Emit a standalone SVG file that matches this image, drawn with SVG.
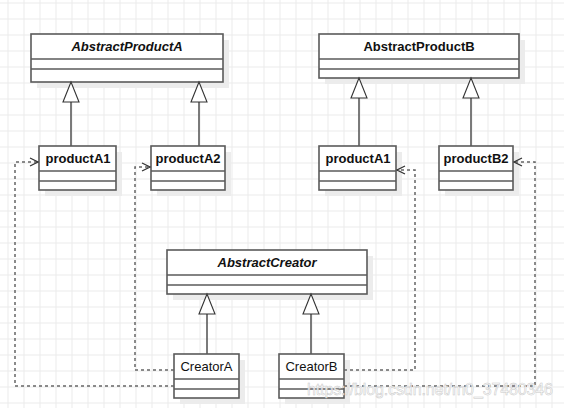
<svg xmlns="http://www.w3.org/2000/svg" width="564" height="408" viewBox="0 0 564 408">
<defs>
<pattern id="grid" x="7.5" y="2.5" width="16" height="16" patternUnits="userSpaceOnUse">
<path d="M0 0.5H16M0.5 0V16" fill="none" stroke="#ebebeb" stroke-width="1"/>
</pattern>
<marker id="open" viewBox="0 0 10 10" refX="9" refY="5" markerWidth="10" markerHeight="10" markerUnits="userSpaceOnUse" orient="auto">
<path d="M1 1L9 5L1 9" fill="none" stroke="#333" stroke-width="1.2"/>
</marker>
</defs>
<style>
.box{fill:#fff;stroke:#5a5a5a;stroke-width:1.6}
.shd{fill:#ececec}
.div{stroke:#5a5a5a;stroke-width:1.6}
.t{font-family:"Liberation Sans",Arial,sans-serif;font-size:13px;fill:#111;text-anchor:middle}
.b{font-weight:bold}
.i{font-style:italic}
.gen{fill:none;stroke:#5a5a5a;stroke-width:1.6}
.tri{fill:#fff;stroke:#333;stroke-width:1.1}
.dep{fill:none;stroke:#666;stroke-width:1.5;stroke-dasharray:3 3}
</style>
<rect width="564" height="408" fill="#fff"/>
<rect width="564" height="408" fill="url(#grid)"/>

<g id="AbstractProductA">
<rect class="shd" x="37" y="40" width="192" height="48"/>
<rect class="box" x="31" y="34" width="192" height="48"/>
<line class="div" x1="31" y1="59" x2="223" y2="59"/>
<line class="div" x1="31" y1="69" x2="223" y2="69"/>
<text class="t b i" x="127" y="51">AbstractProductA</text>
</g>

<g id="AbstractProductB">
<rect class="shd" x="325" y="40" width="200" height="44"/>
<rect class="box" x="319" y="34" width="200" height="44"/>
<line class="div" x1="319" y1="59" x2="519" y2="59"/>
<line class="div" x1="319" y1="69" x2="519" y2="69"/>
<text class="t b" x="419" y="51">AbstractProductB</text>
</g>

<g id="productA1">
<rect class="shd" x="45" y="152" width="77" height="44"/>
<rect class="box" x="39" y="146" width="77" height="44"/>
<line class="div" x1="39" y1="171" x2="116" y2="171"/>
<line class="div" x1="39" y1="181" x2="116" y2="181"/>
<text class="t b" x="78" y="163">productA1</text>
</g>

<g id="productA2">
<rect class="shd" x="157" y="152" width="74" height="44"/>
<rect class="box" x="151" y="146" width="74" height="44"/>
<line class="div" x1="151" y1="171" x2="225" y2="171"/>
<line class="div" x1="151" y1="181" x2="225" y2="181"/>
<text class="t b" x="188" y="163">productA2</text>
</g>

<g id="productA1B">
<rect class="shd" x="325" y="152" width="77" height="44"/>
<rect class="box" x="319" y="146" width="77" height="44"/>
<line class="div" x1="319" y1="171" x2="396" y2="171"/>
<line class="div" x1="319" y1="181" x2="396" y2="181"/>
<text class="t b" x="358" y="163">productA1</text>
</g>

<g id="productB2">
<rect class="shd" x="445" y="152" width="74" height="44"/>
<rect class="box" x="439" y="146" width="74" height="44"/>
<line class="div" x1="439" y1="171" x2="513" y2="171"/>
<line class="div" x1="439" y1="181" x2="513" y2="181"/>
<text class="t b" x="476" y="163">productB2</text>
</g>

<g id="AbstractCreator">
<rect class="shd" x="173" y="256" width="200" height="44"/>
<rect class="box" x="167" y="250" width="200" height="44"/>
<line class="div" x1="167" y1="275" x2="367" y2="275"/>
<line class="div" x1="167" y1="285" x2="367" y2="285"/>
<text class="t b i" x="267" y="267">AbstractCreator</text>
</g>

<g id="CreatorA">
<rect class="shd" x="180" y="360" width="65" height="44"/>
<rect class="box" x="174" y="354" width="65" height="44"/>
<line class="div" x1="174" y1="379" x2="239" y2="379"/>
<line class="div" x1="174" y1="389" x2="239" y2="389"/>
<text class="t" x="206.5" y="371">CreatorA</text>
</g>

<g id="CreatorB">
<rect class="shd" x="285" y="360" width="65" height="44"/>
<rect class="box" x="279" y="354" width="65" height="44"/>
<line class="div" x1="279" y1="379" x2="344" y2="379"/>
<line class="div" x1="279" y1="389" x2="344" y2="389"/>
<text class="t" x="311.5" y="371">CreatorB</text>
</g>

<g id="connectors">
<path class="gen" d="M71 146V102"/>
<path class="tri" d="M71 82L63 102H79Z"/>
<path class="gen" d="M199 146V102"/>
<path class="tri" d="M199 82L191 102H207Z"/>
<path class="gen" d="M359 146V98"/>
<path class="tri" d="M359 78L351 98H367Z"/>
<path class="gen" d="M471 146V98"/>
<path class="tri" d="M471 78L463 98H479Z"/>
<path class="gen" d="M207 354V314"/>
<path class="tri" d="M207 294L199 314H215Z"/>
<path class="gen" d="M311 354V314"/>
<path class="tri" d="M311 294L303 314H319Z"/>
<path class="dep" d="M174 386H15V162H38" marker-end="url(#open)"/>
<path class="dep" d="M174 370H135V167H150" marker-end="url(#open)"/>
<path class="dep" d="M344 370H415V170H397" marker-end="url(#open)"/>
<path class="dep" d="M344 386H535V162H514" marker-end="url(#open)"/>
</g>

<text x="307" y="395" font-family="Liberation Sans,Arial,sans-serif" font-size="16" fill="#ffffff" fill-opacity="0.85" stroke="#c8c8c8" stroke-width="0.5" textLength="246">https://blog.csdn.net/m0_37480346</text>
</svg>
